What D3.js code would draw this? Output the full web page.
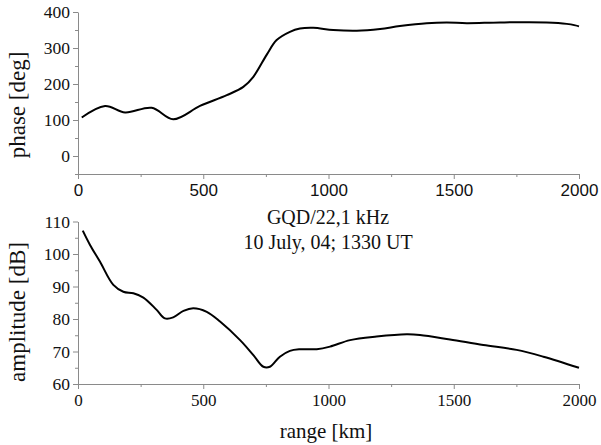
<!DOCTYPE html>
<html>
<head>
<meta charset="utf-8">
<script src="https://cdn.jsdelivr.net/npm/d3@7"></script>
<style>
  body { margin: 0; background: #fff; }
  svg { display: block; }
</style>
</head>
<body>
<div id="chart"></div>
<script>
// range [km] and values
const phaseRange = [15, 108, 188, 294, 380, 487, 594, 660, 700, 753, 793, 846, 886, 939, 1019, 1113, 1206, 1285, 1392, 1472, 1552, 1685, 1871, 1951, 2000]
const phaseDeg = [107, 139, 121, 134, 102, 139, 169, 192, 220, 281, 322, 345, 354, 356, 350, 348, 353, 361, 369, 371, 369, 371, 371, 367, 360]

const ampRange = [19, 48, 88, 141, 181, 221, 261, 314, 347, 380, 421, 460, 514, 567, 647, 700, 740, 766, 806, 846, 886, 953, 1006, 1086, 1192, 1312, 1365, 1485, 1618, 1751, 1858, 2000]
const ampDb = [107.2, 102.8, 97.6, 90.5, 88.4, 87.9, 86.6, 82.8, 80.2, 80.5, 82.5, 83.3, 82.2, 79.2, 73.5, 68.9, 65.3, 65.3, 68.4, 70.2, 70.7, 70.7, 71.5, 73.5, 74.6, 75.3, 75.1, 73.7, 72.0, 70.5, 68.4, 65.0]

const xTicks = [0, 500, 1000, 1500, 2000]
const xMinor = [250, 750, 1250, 1750]
const phaseTicks = [0, 100, 200, 300, 400]
const phaseMinor = [-50, 50, 150, 250, 350]
const ampTicks = [60, 70, 80, 90, 100, 110]
const ampMinor = [65, 75, 85, 95, 105]

const width = 601
const height = 445
const left = 78
const right = 579
const axisColor = '#8a8a8a'
const serif = '"Liberation Serif", "Times New Roman", serif'
const sans = '"Liberation Sans", Arial, sans-serif'

const svg = d3.select('#chart').append('svg')
  .attr('width', width)
  .attr('height', height)

const x = d3.scaleLinear().domain([0, 2000]).range([left, right])

const drawAxes = function (y, bottom, major, minor, xFont, yFont) {
  const gx = svg.append('g').attr('transform', `translate(0,${bottom})`)
  gx.call(d3.axisBottom(x).tickValues(major.x).tickSize(5).tickSizeOuter(0).tickFormat(d3.format('d')))
  gx.call(g => g.append('g').call(d3.axisBottom(x).tickValues(minor.x).tickSize(3).tickFormat('')).select('.domain').remove())
  gx.selectAll('text')
    .attr('dy', null)
    .attr('y', 22)
    .style('font-family', xFont)
    .style('font-size', '17px')
    .attr('fill', '#111')

  const gy = svg.append('g').attr('transform', `translate(${left},0)`)
  gy.call(d3.axisLeft(y).tickValues(major.y).tickSize(5).tickSizeOuter(0))
  gy.call(g => g.append('g').call(d3.axisLeft(y).tickValues(minor.y).tickSize(3).tickFormat('')).select('.domain').remove())
  gy.selectAll('text')
    .attr('x', -8)
    .style('font-family', yFont)
    .style('font-size', '17.5px')
    .attr('fill', '#111')

  svg.selectAll('.domain, .tick line').attr('stroke', axisColor)
}

// top panel: phase
const yPhase = d3.scaleLinear().domain([-50, 400]).range([174, 12])
drawAxes(yPhase, 174, { x: xTicks, y: phaseTicks }, { x: xMinor, y: phaseMinor }, sans, serif)

svg.append('path')
  .datum(d3.zip(phaseRange, phaseDeg))
  .attr('fill', 'none')
  .attr('stroke', '#000')
  .attr('stroke-width', 2)
  .attr('d', d3.line().x(d => x(d[0])).y(d => yPhase(d[1])).curve(d3.curveCatmullRom))

// bottom panel: amplitude
const yAmp = d3.scaleLinear().domain([60, 110]).range([384, 221.5])
drawAxes(yAmp, 384, { x: xTicks, y: ampTicks }, { x: xMinor, y: ampMinor }, serif, serif)

svg.append('path')
  .datum(d3.zip(ampRange, ampDb))
  .attr('fill', 'none')
  .attr('stroke', '#000')
  .attr('stroke-width', 2)
  .attr('d', d3.line().x(d => x(d[0])).y(d => yAmp(d[1])).curve(d3.curveCatmullRom))

// labels
const label = (txt, tx, ty, size, rot) => svg.append('text')
  .attr('transform', `translate(${tx},${ty})` + (rot ? ' rotate(-90)' : ''))
  .attr('text-anchor', 'middle')
  .style('font-family', serif)
  .style('font-size', size + 'px')
  .attr('fill', '#111')
  .text(txt)

label('phase [deg]', 25, 105, 23, true)
label('amplitude [dB]', 25, 312, 23, true)
label('range [km]', 326, 438, 21)
label('GQD/22,1 kHz', 328, 224, 20)
label('10 July, 04; 1330 UT', 328, 249, 20)
</script>
</body>
</html>
